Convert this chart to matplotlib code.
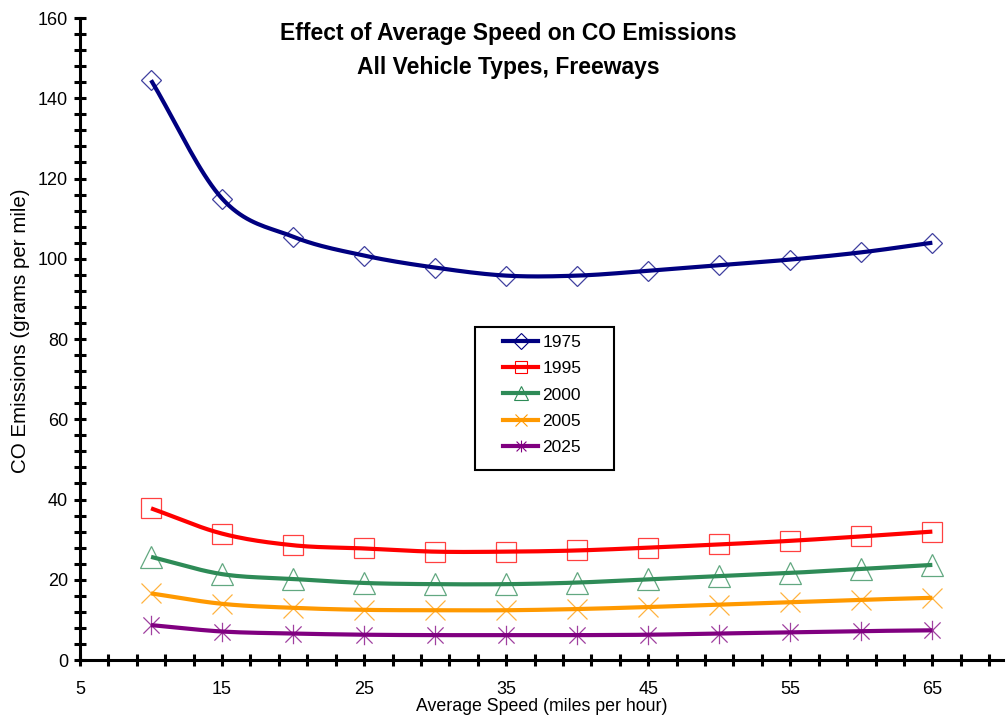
import numpy as np
import matplotlib
matplotlib.use("Agg")
import matplotlib.pyplot as plt
from matplotlib.path import Path
from matplotlib.lines import Line2D
from matplotlib.patches import Rectangle

plt.rcParams['font.family'] = ['Liberation Sans', 'DejaVu Sans']

# data
speed = [10, 15, 20, 25, 30, 35, 40, 45, 50, 55, 60, 65]
co_1975 = [144.5, 115.0, 105.5, 100.8, 97.8, 95.8, 95.8, 97.0, 98.4, 99.8, 101.6, 104.0]
co_1995 = [37.8, 31.5, 28.6, 27.8, 27.0, 27.0, 27.3, 28.0, 28.8, 29.7, 30.8, 32.0]
co_2000 = [25.7, 21.4, 20.2, 19.2, 18.9, 18.9, 19.3, 20.1, 20.9, 21.7, 22.7, 23.7]
co_2005 = [16.6, 14.0, 13.0, 12.5, 12.4, 12.4, 12.7, 13.2, 13.8, 14.4, 15.0, 15.5]
co_2025 = [8.7, 7.1, 6.6, 6.3, 6.2, 6.2, 6.2, 6.3, 6.6, 6.9, 7.2, 7.4]
years = ['1975', '1995', '2000', '2005', '2025']

# excel-like asterisk marker (x with a vertical bar)
star = Path([(-1, -1), (1, 1), (-1, 1), (1, -1), (0, -1.2), (0, 1.2)],
            [Path.MOVETO, Path.LINETO, Path.MOVETO, Path.LINETO, Path.MOVETO, Path.LINETO])

# colour, marker, size on plot, size in legend
styles = [
    ('#000080', 'D', 10.5, 8),
    ('#ff0000', 's', 14, 8),
    ('#2e8b57', '^', 16, 9.5),
    ('#ff9900', 'x', 14, 8.5),
    ('#800080', star, 14, 8.5),
]


def smooth(x, y, n=20):
    # catmull-rom style smoothing, like excel's smoothed line
    x = np.asarray(x, float)
    y = np.asarray(y, float)
    px = np.concatenate([[2 * x[0] - x[1]], x, [2 * x[-1] - x[-2]]])
    py = np.concatenate([[2 * y[0] - y[1]], y, [2 * y[-1] - y[-2]]])
    t = np.linspace(0, 1, n, endpoint=False)
    xs, ys = [], []
    for i in range(1, len(px) - 2):
        for p, out in ((px, xs), (py, ys)):
            p0, p1, p2, p3 = p[i - 1], p[i], p[i + 1], p[i + 2]
            out.extend(0.5 * (2 * p1 + (-p0 + p2) * t + (2 * p0 - 5 * p1 + 4 * p2 - p3) * t ** 2
                              + (-p0 + 3 * p1 - 3 * p2 + p3) * t ** 3))
    xs.append(x[-1])
    ys.append(y[-1])
    return np.array(xs), np.array(ys)


fig = plt.figure(figsize=(10.08, 7.21), dpi=100)
ax = fig.add_axes([0.0794, 0.0846, 0.916, 0.8904])

series = [co_1975, co_1995, co_2000, co_2005, co_2025]
handles = []
for vals, (col, mk, ms, lms), lab in zip(series, styles, years):
    sx, sy = smooth(speed, vals)
    ax.plot(sx, sy, color=col, lw=3, solid_capstyle='butt', zorder=3)
    ax.plot(speed, vals, ls='none', marker=mk, markersize=ms, mfc='none',
            mec=col, mew=0.9, alpha=0.75, zorder=4)
    handles.append(Line2D([], [], color=col, lw=3, marker=mk, markersize=lms,
                          mfc='none', mec=col, mew=0.8, label=lab))

ax.set_xlim(5, 70)
ax.set_ylim(0, 160)
ax.set_xticks(np.arange(5, 66, 10))
ax.set_xticks(np.arange(5, 70, 2), minor=True)
ax.set_yticks(np.arange(0, 161, 20))
ax.set_yticks(np.arange(0, 161, 4), minor=True)

for s in ['top', 'right']:
    ax.spines[s].set_visible(False)
for s in ['left', 'bottom']:
    ax.spines[s].set_linewidth(2.2)

ax.tick_params(which='both', direction='inout', width=2.2, length=9, labelsize=13)
ax.tick_params(axis='x', pad=10.5)
ax.tick_params(axis='y', pad=4)

ax.set_xlabel('Average Speed (miles per hour)', fontsize=12.8, labelpad=0)
ax.set_ylabel('CO Emissions (grams per mile)', fontsize=14.8, labelpad=6)
ax.yaxis.set_label_coords(-0.054, 0.513)

fig.text(0.504, 0.953, 'Effect of Average Speed on CO Emissions', ha='center', va='center',
         fontsize=16.5, fontweight='bold')
fig.text(0.504, 0.907, 'All Vehicle Types, Freeways', ha='center', va='center',
         fontsize=16.5, fontweight='bold')

# legend box drawn separately so the wide side padding matches
ax.add_patch(Rectangle((0.428, 0.296), 0.150, 0.223, transform=ax.transAxes,
                       fill=True, facecolor='white', edgecolor='black', lw=1.5, zorder=5))
leg = ax.legend(handles=handles, loc='upper left', bbox_to_anchor=(0.4585, 0.507),
                fontsize=12.5, frameon=False, handlelength=2.0,
                handletextpad=0.25, labelspacing=0.65, borderpad=0, borderaxespad=0)
leg.set_zorder(6)

fig.savefig('out.png', dpi=100)
